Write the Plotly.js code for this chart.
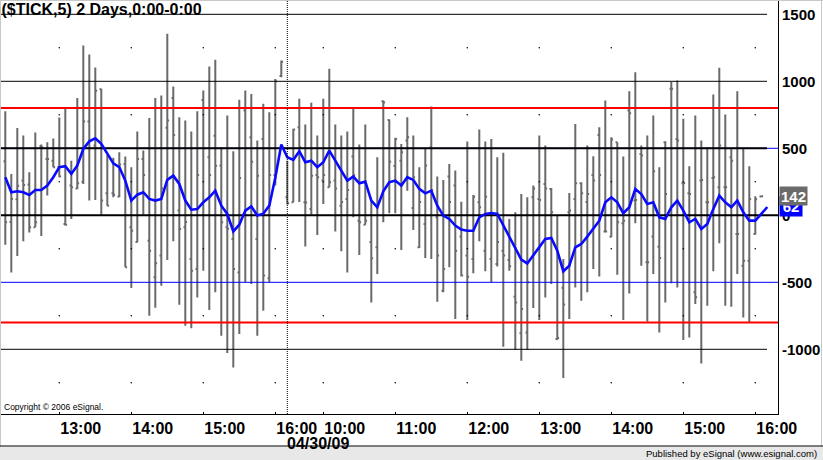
<!DOCTYPE html>
<html>
<head>
<meta charset="utf-8">
<script src="https://cdn.plot.ly/plotly-3.0.1.min.js"></script>
<style>
html,body{margin:0;padding:0;background:#fff;}
#chart{width:823px;height:460px;}
</style>
</head>
<body>
<div id="chart"></div>
<script>
// ---- 5-minute $TICK bars, two sessions (index order, left to right) ----
const barOpen = [
 403,-50,120,260,230,-90,517,420,408,360,-65,222,200,250,700,520,940,165,165,140,
 383,-90,-200,420,-189,-463,-300,653,876,35,-90,-326,-400,861,433,593,371,-90,-177,-426,
 782,582,-177,570,-470,300,1040,
 134,97,657,97,47,300,259,209,259,72,122,438,-40,-70,-200,-239,852,712,368,408,
 558,55,-239,-65,508,-15,-563,289,222,-159,-300,-326,97,-264,-326,-364,-264,-334,-608,-881,
 -874,134,122,234,197,-924,-540,22,122,240,100,300,600,-120,-160,545,-60,782,110,458,
 -351,-159,-234,545,944,570,239,164,-575,259,97,279,209,209,433,-139,-376,-339,-140,140
];
const barHigh = [
 777,309,652,595,321,618,528,545,573,729,804,408,876,1267,1200,1103,944,450,430,470,
 438,358,625,483,727,876,894,1355,961,732,707,625,777,931,1111,1160,508,745,478,862,
 931,906,558,832,769,1018,1155,
 408,645,869,677,839,595,869,1093,677,595,625,794,528,677,110,433,857,715,578,533,
 732,595,359,496,812,289,264,383,334,102,550,152,640,550,570,433,466,-27,22,159,
 134,222,595,520,204,-2,-326,167,682,246,520,441,657,857,583,545,438,926,1068,520,
 595,744,359,553,994,1006,720,366,744,558,508,901,1101,752,496,926,496,366,142,145
];
const barLow = [
 -219,-426,-304,-194,-129,-90,-154,147,358,284,-77,-27,197,234,110,115,5,72,134,134,
 -388,-543,-202,5,-749,-690,-525,-334,-194,-667,-824,-842,-613,-413,-707,-575,-899,-1028,-1135,-886,
 -500,-513,-899,-712,-500,222,1030,
 80,97,100,-232,5,-147,85,209,-120,-269,-426,-15,-296,-70,-650,-438,-52,15,15,-259,
 184,-110,-244,-319,-326,-645,-575,-388,-774,-456,-782,-433,-194,-418,-500,-383,-981,-413,-1006,-1086,
 -1006,-692,-782,-613,-513,-929,-1215,-774,-538,-637,-575,-401,-456,-127,-164,-443,-782,-583,-60,-376,
 -792,-438,-874,-650,-508,-538,-931,-911,-662,-1106,-675,-418,-209,-675,-682,-438,-762,-799,-144,138
];
const barClose = [
 -52,122,220,227,-90,-52,508,420,358,290,-70,209,239,700,500,930,110,72,154,380,
 -388,-115,420,300,-265,-358,200,707,600,-102,-50,-413,300,500,300,370,-52,-100,-400,279,
 500,400,296,-450,300,1000,1145,
 90,640,508,95,296,284,300,246,200,100,189,300,-52,-40,-320,102,842,400,570,470,
 583,284,100,371,189,-300,-400,100,-264,-450,-458,139,60,139,0,-200,-300,-380,-650,-700,
 -500,200,115,200,22,-916,-665,35,239,164,159,259,300,-120,565,-52,-40,762,115,446,
 -351,329,-319,159,944,558,241,159,-612,264,97,284,520,209,408,-139,-339,122,120,142
];
// ---- blue moving-average line (one value per bar slot, runs two slots past last bar) ----
const maLine = [
 284,172,179,172,152,189,189,222,284,359,366,309,371,495,552,575,533,458,388,359,
 259,110,154,172,122,110,122,264,296,234,110,42,47,97,134,184,72,10,-120,-70,
 35,67,-2,12,72,280,528,
 433,413,478,396,408,359,396,483,408,334,259,289,239,251,110,60,179,247,259,222,
 284,264,197,164,184,72,-2,-27,-77,-107,-115,-115,-15,10,17,10,-77,-152,-251,-330,
 -359,-301,-234,-177,-169,-264,-418,-376,-239,-214,-159,-102,-40,97,134,97,15,60,197,159,
 85,97,-15,-27,60,110,35,-52,-27,-102,-65,47,147,97,60,110,22,-40,-40,10,62
];
// ---- axis ticks ----
const tickSlots = [9,21,33,45,53,65,77,89,101,113,125];
const tickLabels = ["13:00","14:00","15:00","16:00","10:00","11:00","12:00","13:00","14:00","15:00","16:00"];
const dayBreakSlot = 47;
const dateLabel = "04/30/09";
const yTickVals = [1500,1000,500,0,-500,-1000];
const yTickText = ["1500","1000","500","0","-500","-1000"];
// ---- reference levels ----
const thinBlackLevels = [1500,1000,-1000];
const redLevels = [800,-800];
const blueLevels = [500,-500];
const thickBlackLevels = [500,0];
const dotLevels = [1250,750,250,-250,-750,-1250];
const lastClose = 142;
const lastMA = 62;

// ---- geometry ----
const W = 823, H = 460;
const L = 1, R = 45, T = 0, B = 46;
const plotW = W - L - R, plotH = H - T - B;
const pxPerSlot = 6;
const x0 = (L - 5.3) / pxPerSlot;
const x1 = x0 + plotW / pxPerSlot;
const xShort = (767 - 5.3) / pxPerSlot;
const yMin = -1482.8, yMax = 1606.7;
const FONT = "Arial, 'Liberation Sans', sans-serif";
const px2paperX = p => (p - L) / plotW;
const py2paperY = p => (T + plotH - p) / plotH;

const slots = barOpen.map((_, i) => i);
const maSlots = maLine.map((_, i) => i);

const traces = [];
traces.push({
  type: 'ohlc', x: slots, open: barOpen, high: barHigh, low: barLow, close: barClose,
  increasing: {line: {color: '#6a6a6a', width: 2}},
  decreasing: {line: {color: '#6a6a6a', width: 2}},
  tickwidth: 0.3, hoverinfo: 'skip', showlegend: false
});
function hline(v, xe, color, w) {
  traces.push({type: 'scatter', mode: 'lines', x: [x0, xe], y: [v, v],
    line: {color: color, width: w}, hoverinfo: 'skip', showlegend: false});
}
blueLevels.forEach(v => hline(v, x1, '#0000ff', 1));
thinBlackLevels.forEach(v => hline(v, xShort, '#000000', 1));
hline(thickBlackLevels[0], xShort, '#000000', 2);
hline(thickBlackLevels[1], x1, '#000000', 2);
redLevels.forEach(v => hline(v, x1, '#ff0000', 2));
// grid dots
const dx = [], dy = [];
tickSlots.forEach(s => dotLevels.forEach(v => { dx.push(s); dy.push(v); }));
traces.push({type: 'scatter', mode: 'markers', x: dx, y: dy,
  marker: {color: '#000', size: 1.6}, hoverinfo: 'skip', showlegend: false});
// moving average
traces.push({type: 'scatter', mode: 'lines', x: maSlots, y: maLine,
  line: {color: '#0a0aff', width: 2.6}, hoverinfo: 'skip', showlegend: false});

const layout = {
  width: W, height: H,
  margin: {l: L, r: R, t: T, b: B, pad: 0},
  paper_bgcolor: '#ffffff', plot_bgcolor: '#ffffff',
  showlegend: false, hovermode: false,
  title: {text: "($TICK,5) 2 Days,0:00-0:00", xref: 'container', yref: 'container',
    x: 1.5 / W, xanchor: 'left', y: 1 - 9 / H, yanchor: 'middle',
    font: {family: FONT, size: 16, color: '#000', weight: 700}},
  xaxis: {
    range: [x0, x1], fixedrange: true, rangeslider: {visible: false},
    tickmode: 'array', tickvals: tickSlots, ticktext: tickLabels,
    ticklabelposition: 'outside right', tickangle: 0,
    ticks: 'inside', ticklen: 2, tickcolor: '#000', tickwidth: 1,
    tickfont: {family: FONT, size: 16, color: '#000', weight: 700},
    showline: true, linecolor: '#000', linewidth: 1,
    showgrid: false, zeroline: false
  },
  yaxis: {
    range: [yMin, yMax], fixedrange: true, side: 'right',
    tickmode: 'array', tickvals: yTickVals, ticktext: yTickText,
    ticks: '', tickfont: {family: FONT, size: 15, color: '#000', weight: 700},
    showline: true, linecolor: '#000', linewidth: 1,
    showgrid: false, zeroline: false
  },
  shapes: [
    {type: 'line', xref: 'x', yref: 'paper', x0: dayBreakSlot, x1: dayBreakSlot, y0: 0, y1: 1,
     line: {color: '#000', width: 1, dash: '1px,1px'}},
    {type: 'line', xref: 'paper', yref: 'paper', x0: px2paperX(0.5), x1: px2paperX(0.5),
     y0: py2paperY(460), y1: py2paperY(0), line: {color: '#c8c8c8', width: 1}},
    {type: 'line', xref: 'paper', yref: 'paper', x0: px2paperX(0), x1: px2paperX(823),
     y0: py2paperY(0.5), y1: py2paperY(0.5), line: {color: '#c8c8c8', width: 1}},
    {type: 'line', xref: 'paper', yref: 'paper', x0: px2paperX(821.5), x1: px2paperX(821.5),
     y0: py2paperY(460), y1: py2paperY(0), line: {color: '#c8c8c8', width: 1}},
    {type: 'rect', xref: 'paper', yref: 'paper', x0: px2paperX(0), x1: px2paperX(823),
     y0: py2paperY(460), y1: py2paperY(446.5), fillcolor: '#e8e8e8', line: {width: 0}},
    {type: 'line', xref: 'paper', yref: 'paper', x0: px2paperX(0), x1: px2paperX(823),
     y0: py2paperY(446), y1: py2paperY(446), line: {color: '#000', width: 1}}
  ],
  annotations: [
    {xref: 'x', x: dayBreakSlot, xanchor: 'left', xshift: -2, yref: 'paper', y: py2paperY(433),
     yanchor: 'top', text: dateLabel, showarrow: false,
     font: {family: FONT, size: 16, color: '#000', weight: 700}},
    {xref: 'paper', x: px2paperX(2), xanchor: 'left', yref: 'paper', y: py2paperY(407),
     yanchor: 'middle', text: "Copyright © 2006 eSignal.", showarrow: false,
     font: {family: FONT, size: 8.5, color: '#000'}},
    {xref: 'paper', x: px2paperX(819), xanchor: 'right', yref: 'paper', y: py2paperY(453),
     yanchor: 'middle', text: "Published by eSignal (www.esignal.com)", showarrow: false,
     font: {family: FONT, size: 9.5, color: '#000'}},
    {xref: 'paper', x: px2paperX(779), xanchor: 'left', yref: 'y', y: lastMA, yanchor: 'middle',
     text: String(lastMA), showarrow: false, bgcolor: '#0000ff', borderpad: 0, width: 22, height: 19,
     font: {family: FONT, size: 15, color: '#fff', weight: 700}},
    {xref: 'paper', x: px2paperX(779), xanchor: 'left', yref: 'y', y: lastClose, yanchor: 'middle',
     text: String(lastClose), showarrow: false, bgcolor: '#6b6b6b', borderpad: 0, width: 27, height: 18,
     font: {family: FONT, size: 15, color: '#fff', weight: 700}}
  ]
};
Plotly.newPlot('chart', traces, layout, {staticPlot: true, displayModeBar: false});
</script>
</body>
</html>
